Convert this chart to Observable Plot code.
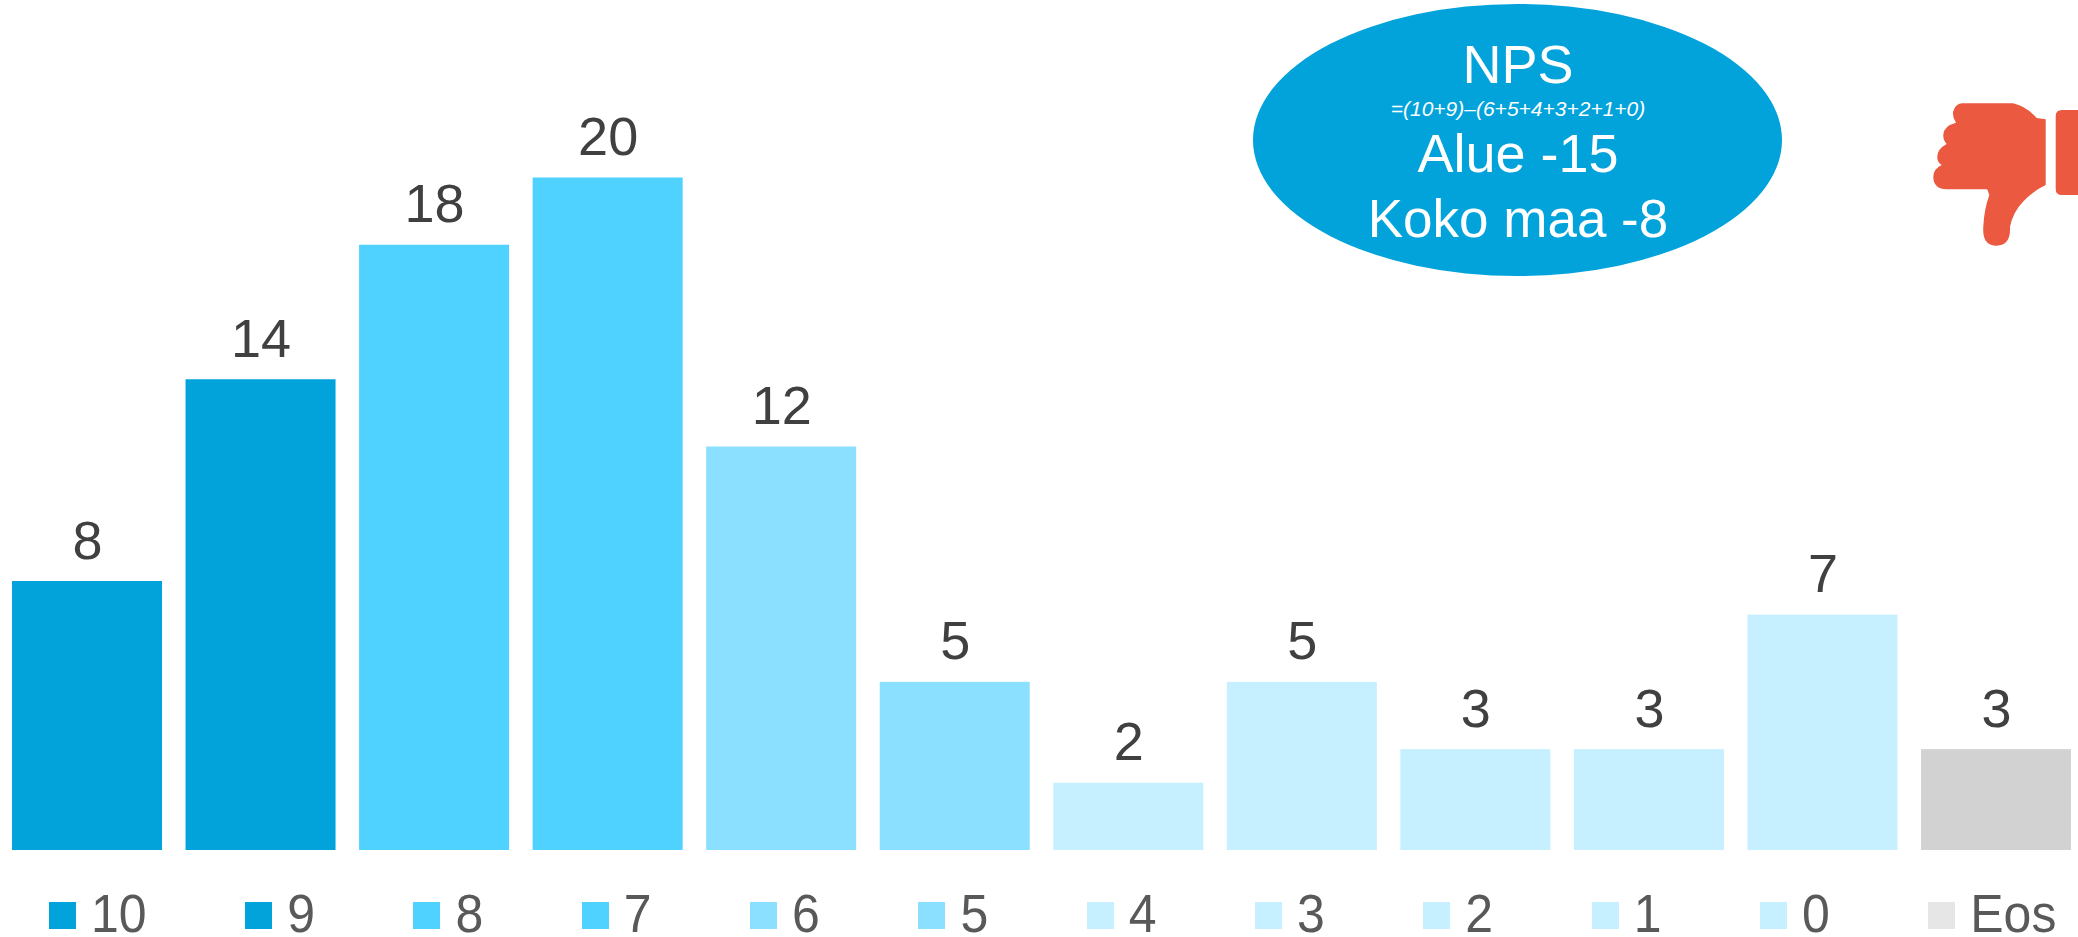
<!DOCTYPE html>
<html>
<head>
<meta charset="utf-8">
<script src="https://cdn.jsdelivr.net/npm/d3@7"></script>
<script src="https://cdn.jsdelivr.net/npm/@observablehq/plot@0.6"></script>
<style>
html,body{margin:0;padding:0;background:#fff;overflow:hidden}
#chart svg{display:block}
#legend{position:relative;height:57px;display:flex;align-items:flex-start;gap:98.5px;padding-left:49px;font:50px "Liberation Sans",Arial,sans-serif;color:#595959;white-space:nowrap}
.item{display:flex;align-items:center;gap:15px;line-height:57px;height:57px;margin-top:6px}
.sw{display:block;width:27px;height:27px;margin-top:2px}
.lab{display:inline-block;transform:scaleY(1.08);transform-origin:50% 50%}
</style>
</head>
<body>
<div id="chart"></div>
<div id="legend"></div>
<script>
const categories = ["10","9","8","7","6","5","4","3","2","1","0","Eos"];
const counts = [8,14,18,20,12,5,2,5,3,3,7,3];
const barColors = ["#02A3DB","#02A3DB","#4FD2FF","#4FD2FF","#8BE0FF","#8BE0FF","#C6F0FF","#C6F0FF","#C6F0FF","#C6F0FF","#C6F0FF","#D2D2D2"];
const legendColors = ["#02A3DB","#02A3DB","#4FD2FF","#4FD2FF","#8BE0FF","#8BE0FF","#C6F0FF","#C6F0FF","#C6F0FF","#C6F0FF","#C6F0FF","#E6E6E6"];
const npsLines = [
  {text:"NPS", base:83, size:54, style:"normal"},
  {text:"=(10+9)–(6+5+4+3+2+1+0)", base:116, size:21, style:"italic"},
  {text:"Alue -15", base:172, size:54, style:"normal"},
  {text:"Koko maa -8", base:237, size:53, style:"normal"}
];
const table = categories.map((c,i)=>({category:c,count:counts[i]}));
const font = '"Liberation Sans",Arial,sans-serif';

function badge(){
  const g = d3.create("svg:g");
  g.append("ellipse").attr("cx",1517.5).attr("cy",140).attr("rx",264.5).attr("ry",136).attr("fill","#02A3DB");
  for (const l of npsLines) {
    g.append("text").attr("x",1518).attr("y",l.base).attr("text-anchor","middle")
      .attr("fill","#fff").attr("font-family",font).attr("font-size",l.size)
      .attr("font-style",l.style).text(l.text);
  }
  return g.node();
}
function thumb(){
  const g = d3.create("svg:g").attr("fill","#EA5940");
  g.append("path").attr("d","M1962 103.3 L2013 103.3 Q2026 106 2036.7 118 L2045.7 119.3 L2045.7 185 Q2033 191 2023 201.7 Q2013 212 2010 226.7 Q2011 245.7 1996.7 245.7 Q1982 245.7 1983.3 226.7 Q1984 210 1989.3 195 L1987.3 189.3 L1947 189.3 Q1933.3 189 1933.3 176.7 Q1933.3 169 1941.7 165 Q1937 162 1937.3 156.7 Q1937.3 149 1946.7 144 Q1943 140 1943.3 135 Q1943.3 126 1956 122.7 Q1952.5 118 1953 112 Q1955 104 1962 103.3 Z");
  g.append("path").attr("d","M2078 110 L2062 110 Q2055.7 110 2055.7 116 L2055.7 189 Q2055.7 195 2062 195 L2078 195 Z");
  return g.node();
}

const plot = Plot.plot({
  width:2078, height:880,
  margin:0,
  style:{background:"transparent",fontFamily:font},
  x:{type:"band",domain:categories,range:[12,2071],paddingInner:0.1357,paddingOuter:0,align:0.5,round:false,axis:null},
  y:{domain:[0,20],range:[850,177.5],axis:null},
  color:{domain:categories,range:barColors},
  marks:[
    Plot.barY(table,{x:"category",y:"count",fill:"category"}),
    Plot.text(table,{x:"category",y:"count",text:d=>String(d.count),dy:-23,lineAnchor:"bottom",fontSize:54,fill:"#404040"}),
    badge,
    thumb
  ]
});
document.getElementById("chart").append(plot);

const legend = d3.select("#legend");
categories.forEach((c,i)=>{
  const item = legend.append("div").attr("class","item");
  item.append("span").attr("class","sw").style("background",legendColors[i]);
  item.append("span").attr("class","lab").text(c);
});
</script>
</body>
</html>
